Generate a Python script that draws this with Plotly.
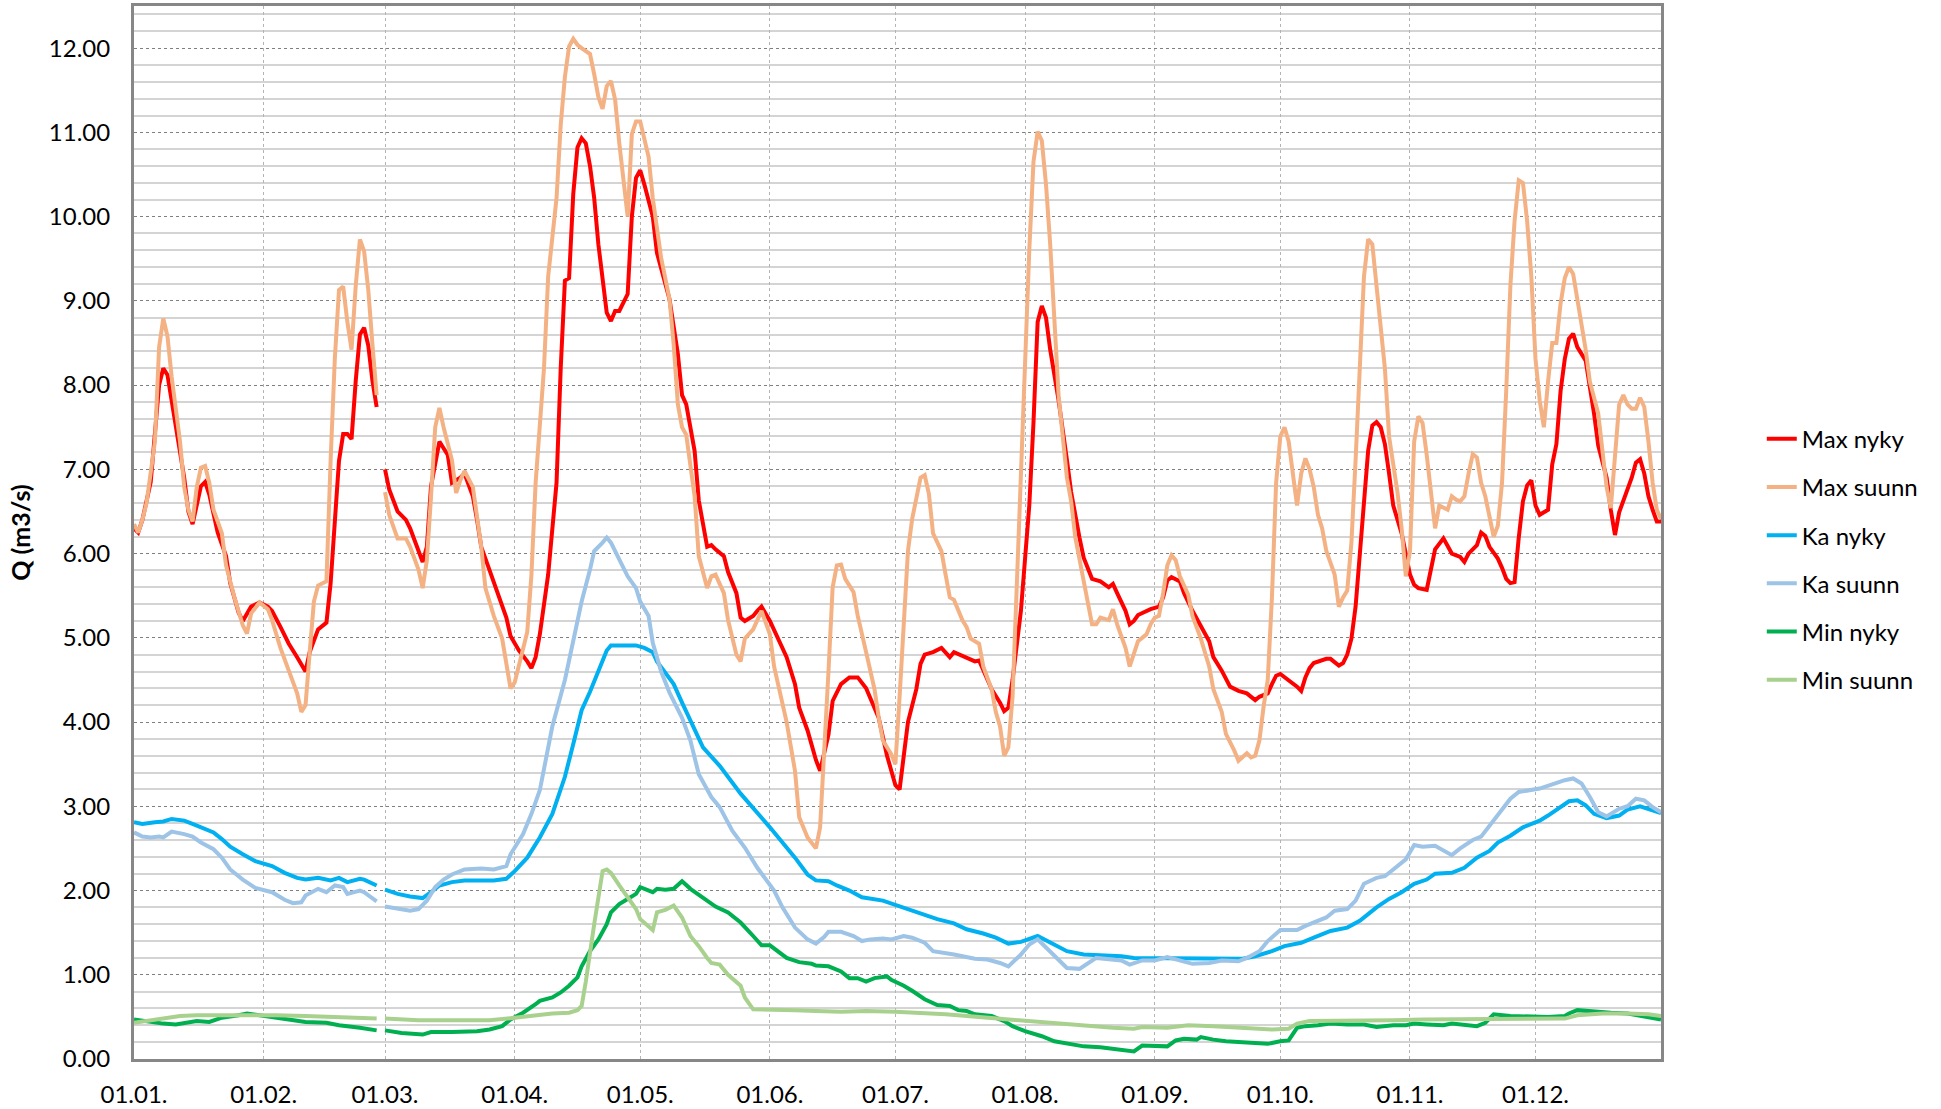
import pandas as pd
import plotly.graph_objects as go

# Daily flow over one year. Days are counted from 1 Jan of a leap year,
# 29.02. (day 59) is an empty row in the data, which leaves the gap.
YEAR_START = "2020-01-01"

MONTH_LABELS = ["01.01.", "01.02.", "01.03.", "01.04.", "01.05.", "01.06.",
                "01.07.", "01.08.", "01.09.", "01.10.", "01.11.", "01.12."]

# ------------------------------
# Max nyky
# ------------------------------
MAX_NYKY_DAY = [
    0, 1, 2, 4, 6, 7, 8, 10, 12, 13,
    14, 16, 17, 18, 20, 22, 23, 25, 26, 28,
    30, 32, 33, 35, 37, 39, 41, 42, 44, 46,
    47, 49, 50, 51, 52, 53, 54, 55, 56, 57,
    58, 59,
    60, 61, 63, 65, 66, 68, 69, 70, 71, 73,
    75, 76, 78, 79, 81, 82, 83, 85, 87, 89,
    90, 92, 94, 95, 96, 97, 99, 101, 102, 103,
    104, 105, 106, 107, 108, 109, 110, 111, 113, 114,
    115, 116, 118, 119, 120, 121, 122, 124, 125, 128,
    130, 131, 132, 134, 135, 137, 138, 139, 141, 142,
    144, 145, 146, 148, 149, 150, 152, 154, 156, 158,
    159, 161, 163, 164, 166, 167, 169, 171, 173, 175,
    178, 180, 182, 183, 185, 187, 188, 189, 191, 193,
    195, 196, 199, 201, 202, 203, 205, 207, 208, 209,
    210, 212, 213, 214, 215, 216, 217, 218, 219, 221,
    223, 224, 226, 227, 229, 231, 233, 234, 235, 237,
    238, 239, 240, 243, 245, 246, 247, 248, 250, 251,
    253, 255, 257, 258, 260, 262, 264, 266, 268, 269,
    271, 272, 273, 274, 276, 278, 279, 280, 281, 282,
    285, 286, 288, 289, 290, 291, 292, 293, 294, 295,
    296, 297, 298, 299, 300, 301, 303, 304, 305, 306,
    307, 309, 310, 311, 313, 314, 315, 317, 318, 319,
    321, 322, 323, 324, 326, 327, 328, 329, 330, 331,
    332, 333, 334, 335, 336, 338, 339, 340, 341, 342,
    343, 344, 345, 347, 348, 349, 350, 352, 353, 354,
    355, 356, 357, 358, 359, 360, 361, 362, 363, 364,
    365,
]
MAX_NYKY = [
    6.3, 6.25, 6.4, 6.85, 8.0, 8.2, 8.12, 7.5, 6.9, 6.5,
    6.35, 6.8, 6.85, 6.7, 6.25, 5.97, 5.65, 5.3, 5.2, 5.37,
    5.42, 5.37, 5.32, 5.13, 4.93, 4.77, 4.6, 4.83, 5.1, 5.18,
    5.65, 7.1, 7.42, 7.42, 7.36, 8.05, 8.6, 8.68, 8.47, 8.05,
    7.74, None,
    7.0, 6.76, 6.5, 6.4, 6.3, 6.05, 5.9, 6.08, 6.8, 7.33,
    7.17, 6.84, 6.9, 6.95, 6.68, 6.4, 6.08, 5.8, 5.53, 5.24,
    5.02, 4.85, 4.72, 4.64, 4.77, 5.04, 5.75, 6.84, 8.2, 9.24,
    9.27, 10.27, 10.82, 10.93, 10.87, 10.6, 10.22, 9.67, 8.86, 8.76,
    8.88, 8.88, 9.08, 10.0, 10.46, 10.55, 10.38, 10.0, 9.57, 9.02,
    8.37, 7.88, 7.77, 7.22, 6.63, 6.08, 6.1, 6.05, 5.97, 5.78,
    5.53, 5.24, 5.2, 5.26, 5.32, 5.37, 5.2, 4.99, 4.77, 4.45,
    4.17, 3.9, 3.55, 3.42, 3.85, 4.25, 4.45, 4.53, 4.53, 4.4,
    4.05, 3.6, 3.25, 3.2, 4.0, 4.39, 4.69, 4.8, 4.83, 4.88,
    4.77, 4.83, 4.77, 4.72, 4.73, 4.61, 4.39, 4.23, 4.13, 4.17,
    4.5, 5.32, 5.92, 6.57, 7.55, 8.75, 8.94, 8.8, 8.42, 7.82,
    7.11, 6.73, 6.19, 5.95, 5.7, 5.67, 5.6, 5.64, 5.53, 5.32,
    5.16, 5.2, 5.27, 5.34, 5.37, 5.48, 5.68, 5.72, 5.67, 5.53,
    5.32, 5.13, 4.96, 4.77, 4.61, 4.42, 4.37, 4.34, 4.26, 4.3,
    4.34, 4.45, 4.55, 4.57, 4.5, 4.42, 4.37, 4.53, 4.64, 4.7,
    4.75, 4.75, 4.67, 4.7, 4.8, 4.99, 5.37, 6.03, 6.62, 7.22,
    7.52, 7.56, 7.5, 7.3, 6.95, 6.57, 6.24, 5.97, 5.75, 5.63,
    5.59, 5.57, 5.8, 6.05, 6.18, 6.08, 6.0, 5.96, 5.9, 6.0,
    6.1, 6.25, 6.21, 6.08, 5.94, 5.83, 5.7, 5.65, 5.66, 6.19,
    6.62, 6.81, 6.87, 6.57, 6.46, 6.52, 7.06, 7.3, 7.93, 8.31,
    8.55, 8.61, 8.45, 8.29, 7.99, 7.66, 7.28, 6.9, 6.52, 6.22,
    6.49, 6.62, 6.76, 6.9, 7.08, 7.12, 6.95, 6.68, 6.52, 6.38,
    6.38,
]

# ------------------------------
# Max suunn
# ------------------------------
MAX_SUUNN_DAY = [
    0, 1, 2, 3, 5, 6, 7, 8, 9, 11,
    12, 13, 14, 15, 16, 17, 18, 19, 21, 22,
    24, 26, 27, 28, 30, 32, 33, 35, 37, 39,
    40, 41, 42, 43, 44, 46, 47, 48, 49, 50,
    51, 52, 53, 54, 55, 56, 57, 58, 59,
    60, 61, 63, 65, 66, 68, 69, 70, 71, 72,
    73, 74, 76, 77, 78, 79, 81, 82, 83, 84,
    86, 88, 89, 90, 91, 93, 94, 95, 96, 98,
    99, 101, 102, 103, 104, 105, 106, 107, 109, 110,
    111, 112, 113, 114, 115, 116, 117, 118, 119, 120,
    121, 122, 123, 124, 126, 128, 129, 130, 131, 132,
    134, 135, 137, 138, 139, 141, 142, 144, 145, 146,
    148, 150, 152, 153, 155, 156, 158, 159, 161, 163,
    164, 165, 166, 167, 168, 169, 170, 172, 173, 175,
    177, 178, 179, 181, 182, 183, 184, 185, 186, 188,
    189, 190, 191, 193, 194, 195, 196, 198, 199, 200,
    202, 203, 205, 206, 207, 208, 209, 210, 211, 212,
    213, 214, 215, 216, 217, 218, 219, 220, 221, 223,
    224, 225, 227, 229, 230, 231, 233, 234, 235, 237,
    238, 239, 240, 242, 243, 244, 245, 246, 247, 248,
    249, 250, 252, 253, 255, 257, 258, 260, 261, 263,
    264, 266, 267, 268, 269, 270, 271, 272, 273, 274,
    275, 276, 277, 278, 279, 280, 281, 282, 283, 284,
    285, 287, 288, 289, 290, 291, 292, 293, 294, 295,
    296, 297, 298, 299, 300, 302, 303, 304, 305, 306,
    307, 308, 309, 310, 311, 312, 313, 314, 315, 316,
    317, 318, 319, 320, 321, 322, 323, 324, 325, 326,
    327, 328, 329, 330, 331, 332, 333, 334, 335, 336,
    337, 338, 339, 340, 341, 342, 343, 344, 345, 346,
    347, 348, 350, 351, 352, 353, 354, 355, 356, 357,
    358, 359, 360, 361, 362, 363, 364, 365,
]
MAX_SUUNN = [
    6.35, 6.25, 6.4, 6.6, 7.33, 8.45, 8.79, 8.58, 8.1, 7.33,
    6.79, 6.52, 6.38, 6.79, 7.02, 7.04, 6.84, 6.52, 6.24, 5.86,
    5.48, 5.15, 5.05, 5.29, 5.42, 5.34, 5.21, 4.88, 4.61, 4.34,
    4.12, 4.2, 4.83, 5.43, 5.62, 5.67, 7.11, 8.31, 9.13, 9.17,
    8.75, 8.42, 9.18, 9.73, 9.59, 9.13, 8.48, 7.88, None,
    6.73, 6.46, 6.18, 6.18, 6.08, 5.81, 5.59, 5.92, 6.68, 7.5,
    7.73, 7.5, 7.11, 6.72, 6.87, 6.98, 6.79, 6.46, 6.08, 5.59,
    5.26, 4.99, 4.66, 4.4, 4.47, 4.88, 5.07, 5.75, 6.84, 8.2,
    9.29, 10.22, 11.09, 11.66, 12.02, 12.11, 12.04, 12.0, 11.93, 11.69,
    11.42, 11.28, 11.55, 11.61, 11.39, 10.87, 10.44, 10.0, 10.98, 11.13,
    11.13, 10.93, 10.71, 10.22, 9.51, 9.02, 8.48, 7.77, 7.5, 7.41,
    6.68, 5.97, 5.59, 5.73, 5.75, 5.53, 5.21, 4.8, 4.72, 4.99,
    5.1, 5.32, 5.04, 4.66, 4.23, 4.0, 3.42, 2.87, 2.63, 2.5,
    2.75, 3.6, 4.6, 5.6, 5.86, 5.87, 5.7, 5.54, 5.26, 4.83,
    4.39, 4.06, 3.78, 3.62, 3.5, 4.3, 5.2, 6.03, 6.41, 6.9,
    6.93, 6.71, 6.24, 6.03, 5.75, 5.48, 5.45, 5.21, 5.13, 4.99,
    4.93, 4.66, 4.39, 4.12, 3.95, 3.6, 3.7, 4.3, 5.6, 7.0,
    8.5, 9.6, 10.65, 11.01, 10.9, 10.38, 9.67, 8.75, 7.88, 6.9,
    6.62, 6.19, 5.65, 5.16, 5.16, 5.24, 5.21, 5.34, 5.16, 4.88,
    4.66, 4.8, 4.96, 5.04, 5.16, 5.24, 5.26, 5.53, 5.86, 5.98,
    5.92, 5.73, 5.51, 5.26, 4.99, 4.66, 4.39, 4.12, 3.86, 3.66,
    3.54, 3.63, 3.58, 3.6, 3.78, 4.18, 4.5, 5.48, 6.84, 7.39,
    7.5, 7.33, 6.95, 6.57, 6.95, 7.13, 7.0, 6.79, 6.46, 6.3,
    6.03, 5.75, 5.37, 5.48, 5.56, 6.13, 7.11, 8.2, 9.29, 9.73,
    9.67, 9.18, 8.64, 8.2, 7.39, 6.73, 6.3, 5.73, 6.03, 7.33,
    7.63, 7.55, 7.17, 6.68, 6.3, 6.57, 6.54, 6.52, 6.68, 6.64,
    6.62, 6.68, 6.95, 7.18, 7.14, 6.84, 6.68, 6.46, 6.2, 6.33,
    6.84, 7.93, 9.18, 9.95, 10.43, 10.4, 9.95, 9.29, 8.31, 7.82,
    7.5, 8.04, 8.5, 8.5, 8.97, 9.27, 9.4, 9.32, 9.02, 8.75,
    8.42, 8.04, 7.66, 7.22, 6.79, 6.54, 7.11, 7.77, 7.88, 7.77,
    7.72, 7.72, 7.85, 7.74, 7.33, 6.84, 6.52, 6.41,
]

# ------------------------------
# Ka nyky
# ------------------------------
KA_NYKY_DAY = [
    0, 2, 5, 7, 9, 12, 14, 16, 19, 21,
    23, 26, 29, 33, 36, 39, 41, 44, 47, 49,
    51, 54, 55, 58, 59,
    60, 63, 66, 69, 71, 73, 76, 79, 83, 86,
    89, 91, 94, 97, 100, 103, 105, 107, 109, 111,
    113, 114, 117, 118, 120, 122, 124, 125, 127, 129,
    131, 133, 136, 140, 145, 152, 158, 161, 163, 166,
    168, 171, 174, 179, 182, 185, 189, 192, 196, 199,
    203, 206, 209, 212, 216, 219, 223, 227, 231, 236,
    239, 244, 248, 252, 257, 261, 265, 268, 272, 275,
    279, 282, 286, 290, 293, 297, 300, 303, 306, 309,
    311, 315, 318, 321, 324, 326, 329, 332, 336, 338,
    341, 343, 345, 347, 349, 352, 355, 357, 360, 362,
    365,
]
KA_NYKY = [
    2.81, 2.79, 2.81, 2.82, 2.85, 2.83, 2.79, 2.75, 2.69, 2.61,
    2.52, 2.43, 2.35, 2.29, 2.21, 2.15, 2.13, 2.15, 2.12, 2.15,
    2.1, 2.14, 2.13, 2.06, None,
    2.01, 1.96, 1.93, 1.91, 1.98, 2.06, 2.1, 2.12, 2.12, 2.12,
    2.14, 2.23, 2.39, 2.63, 2.91, 3.35, 3.74, 4.14, 4.36, 4.61,
    4.85, 4.91, 4.91, 4.9, 4.91, 4.88, 4.83, 4.72, 4.58, 4.45,
    4.23, 4.02, 3.7, 3.48, 3.15, 2.75, 2.39, 2.19, 2.12, 2.11,
    2.06, 2.0, 1.92, 1.88, 1.83, 1.78, 1.72, 1.66, 1.61, 1.54,
    1.49, 1.44, 1.37, 1.39, 1.46, 1.38, 1.28, 1.24, 1.23, 1.22,
    1.2, 1.2, 1.2, 1.19, 1.19, 1.19, 1.19, 1.22, 1.28, 1.34,
    1.38, 1.44, 1.52, 1.56, 1.64, 1.8, 1.9, 1.98, 2.08, 2.13,
    2.2, 2.21, 2.27, 2.39, 2.47, 2.57, 2.65, 2.75, 2.83, 2.89,
    3.0, 3.06, 3.07, 3.01, 2.91, 2.86, 2.89, 2.96, 3.0, 2.97,
    2.92,
]

# ------------------------------
# Ka suunn
# ------------------------------
KA_SUUNN_DAY = [
    0, 2, 4, 6, 7, 9, 12, 14, 16, 19,
    21, 23, 26, 29, 33, 36, 38, 40, 41, 44,
    46, 48, 50, 51, 54, 55, 58, 59,
    60, 63, 66, 68, 70, 72, 74, 76, 79, 83,
    86, 89, 90, 93, 95, 97, 99, 100, 103, 105,
    107, 109, 110, 112, 113, 114, 116, 118, 120, 121,
    123, 124, 126, 128, 131, 133, 135, 138, 140, 143,
    146, 149, 153, 155, 158, 161, 163, 165, 166, 169,
    172, 174, 176, 179, 181, 184, 186, 189, 191, 194,
    196, 201, 204, 207, 209, 212, 214, 216, 218, 221,
    223, 226, 228, 230, 236, 238, 241, 244, 247, 253,
    257, 260, 264, 266, 269, 271, 274, 278, 280, 282,
    285, 287, 290, 292, 294, 297, 299, 301, 304, 306,
    308, 311, 313, 315, 317, 320, 322, 324, 327, 329,
    331, 334, 336, 339, 342, 344, 346, 348, 350, 352,
    355, 357, 359, 361, 363, 365,
]
KA_SUUNN = [
    2.69, 2.64, 2.63, 2.64, 2.63, 2.7, 2.67, 2.64, 2.57, 2.49,
    2.39, 2.25, 2.13, 2.03, 1.98, 1.89, 1.85, 1.86, 1.94, 2.02,
    1.98, 2.06, 2.04, 1.96, 2.0, 1.98, 1.87, None,
    1.81, 1.78, 1.76, 1.78, 1.88, 2.04, 2.13, 2.19, 2.25, 2.26,
    2.25, 2.29, 2.43, 2.67, 2.91, 3.19, 3.66, 3.95, 4.5, 4.94,
    5.43, 5.81, 6.03, 6.13, 6.19, 6.13, 5.94, 5.73, 5.59, 5.43,
    5.26, 4.94, 4.6, 4.35, 4.05, 3.78, 3.38, 3.11, 2.99, 2.71,
    2.51, 2.27, 2.0, 1.8, 1.56, 1.42, 1.37, 1.45, 1.51, 1.51,
    1.46, 1.4, 1.42, 1.43, 1.42, 1.46, 1.44, 1.38, 1.28, 1.26,
    1.24, 1.19, 1.18, 1.14, 1.1, 1.24, 1.36, 1.42, 1.32, 1.18,
    1.08, 1.07, 1.14, 1.2, 1.17, 1.12, 1.17, 1.17, 1.21, 1.13,
    1.14, 1.17, 1.16, 1.2, 1.28, 1.4, 1.53, 1.53, 1.58, 1.62,
    1.68, 1.76, 1.78, 1.88, 2.08, 2.15, 2.17, 2.25, 2.37, 2.54,
    2.52, 2.53, 2.47, 2.42, 2.5, 2.6, 2.64, 2.77, 2.97, 3.09,
    3.17, 3.19, 3.21, 3.26, 3.31, 3.33, 3.27, 3.11, 2.93, 2.88,
    2.97, 3.0, 3.09, 3.07, 2.99, 2.93,
]

# ------------------------------
# Min nyky
# ------------------------------
MIN_NYKY_DAY = [
    0, 4, 7, 10, 12, 15, 18, 21, 25, 27,
    30, 34, 37, 41, 46, 49, 54, 58, 59,
    60, 64, 69, 71, 76, 82, 85, 88, 90, 93,
    96, 97, 100, 102, 104, 106, 107, 109, 111, 113,
    114, 116, 118, 120, 121, 124, 125, 127, 129, 131,
    133, 136, 139, 142, 145, 148, 150, 152, 154, 156,
    159, 162, 163, 166, 169, 171, 173, 175, 177, 180,
    181, 182, 184, 186, 189, 192, 195, 197, 199, 201,
    205, 208, 210, 213, 217, 220, 224, 227, 231, 234,
    237, 239, 241, 244, 247, 249, 251, 254, 255, 258,
    261, 265, 268, 271, 274, 276, 278, 280, 283, 286,
    290, 294, 297, 301, 304, 306, 309, 313, 315, 318,
    321, 323, 325, 329, 334, 338, 342, 343, 345, 349,
    353, 357, 360, 365,
]
MIN_NYKY = [
    0.47, 0.44, 0.42, 0.41, 0.43, 0.45, 0.44, 0.49, 0.52, 0.54,
    0.52, 0.49, 0.47, 0.44, 0.43, 0.4, 0.37, 0.34, None,
    0.34, 0.31, 0.29, 0.32, 0.32, 0.33, 0.35, 0.39, 0.47, 0.55,
    0.65, 0.69, 0.73, 0.79, 0.87, 0.97, 1.1, 1.28, 1.42, 1.6,
    1.74, 1.84, 1.9, 1.96, 2.04, 1.98, 2.02, 2.01, 2.02, 2.11,
    2.02, 1.92, 1.81, 1.74, 1.62, 1.46, 1.35, 1.35, 1.27, 1.2,
    1.15, 1.13, 1.11, 1.1, 1.04, 0.96, 0.96, 0.92, 0.96, 0.98,
    0.94, 0.92, 0.87, 0.81, 0.71, 0.64, 0.63, 0.58, 0.57, 0.53,
    0.51, 0.45, 0.39, 0.33, 0.27, 0.21, 0.18, 0.15, 0.14, 0.12,
    0.1, 0.09, 0.16, 0.15, 0.15, 0.22, 0.24, 0.23, 0.26, 0.23,
    0.21, 0.2, 0.19, 0.18, 0.21, 0.22, 0.37, 0.39, 0.4, 0.42,
    0.41, 0.41, 0.38, 0.4, 0.4, 0.42, 0.41, 0.4, 0.42, 0.41,
    0.39, 0.43, 0.53, 0.51, 0.5, 0.5, 0.51, 0.54, 0.58, 0.56,
    0.55, 0.54, 0.51, 0.47,
]

# ------------------------------
# Min suunn
# ------------------------------
MIN_SUUNN_DAY = [
    0, 4, 7, 11, 15, 21, 27, 34, 41, 49,
    58, 59,
    60, 68, 76, 85, 91, 96, 100, 104, 106, 107,
    108, 110, 112, 113, 114, 116, 118, 120, 121, 124,
    125, 127, 129, 131, 133, 135, 137, 138, 140, 142,
    145, 146, 148, 152, 158, 163, 169, 175, 182, 194,
    201, 208, 215, 222, 227, 234, 239, 241, 247, 252,
    258, 264, 268, 272, 276, 278, 281, 287, 294, 301,
    308, 315, 322, 329, 336, 342, 345, 351, 357, 362,
    365,
]
MIN_SUUNN = [
    0.43, 0.46, 0.48, 0.51, 0.52, 0.52, 0.53, 0.52, 0.51, 0.5,
    0.48, None,
    0.48, 0.46, 0.46, 0.46, 0.49, 0.52, 0.54, 0.55, 0.58, 0.63,
    0.92, 1.6, 2.23, 2.25, 2.21, 2.06, 1.92, 1.78, 1.66, 1.53,
    1.74, 1.77, 1.82, 1.68, 1.46, 1.34, 1.2, 1.14, 1.12, 1.0,
    0.87, 0.73, 0.59, 0.59, 0.58, 0.57, 0.56, 0.57, 0.56, 0.53,
    0.5, 0.47, 0.44, 0.42, 0.39, 0.37, 0.36, 0.38, 0.37, 0.4,
    0.39, 0.37, 0.36, 0.35, 0.36, 0.42, 0.45, 0.45, 0.46, 0.46,
    0.47, 0.47, 0.48, 0.48, 0.48, 0.48, 0.52, 0.54, 0.54, 0.53,
    0.51,
]

# Office palette
red = "#FF0000"
peach = "#F4B183"
blue = "#00B0F0"
light_blue = "#9DC3E6"
green = "#00B050"
light_green = "#A9D18E"

font_family = "Lato, Carlito, Calibri, sans-serif"


def to_dates(days):
    return pd.Timestamp(YEAR_START) + pd.to_timedelta(days, unit="D")


series = [
    ("Max nyky", MAX_NYKY_DAY, MAX_NYKY, red),
    ("Max suunn", MAX_SUUNN_DAY, MAX_SUUNN, peach),
    ("Ka nyky", KA_NYKY_DAY, KA_NYKY, blue),
    ("Ka suunn", KA_SUUNN_DAY, KA_SUUNN, light_blue),
    ("Min nyky", MIN_NYKY_DAY, MIN_NYKY, green),
    ("Min suunn", MIN_SUUNN_DAY, MIN_SUUNN, light_green),
]

fig = go.Figure()
for name, days, values, color in series:
    fig.add_trace(
        go.Scatter(
            x=to_dates(days),
            y=values,
            name=name,
            mode="lines",
            line=dict(color=color, width=4),
            connectgaps=False,
            legendgroup=name,
        )
    )

month_ticks = to_dates([0, 31, 60, 91, 121, 152, 182, 213, 244, 274, 305, 335])

fig.update_layout(
    width=1941,
    height=1109,
    margin=dict(l=134, r=280, t=6, b=50),
    plot_bgcolor="white",
    paper_bgcolor="white",
    font=dict(family=font_family, size=24, color="black"),
    showlegend=True,
    legend=dict(
        x=1.066,
        y=0.61,
        xanchor="left",
        yanchor="top",
        tracegroupgap=14,
        font=dict(size=24),
        bgcolor="rgba(0,0,0,0)",
    ),
    xaxis=dict(
        type="date",
        range=[to_dates(0), to_dates(365)],
        tickvals=month_ticks,
        ticktext=MONTH_LABELS,
        ticks="",
        ticklabelstandoff=12,
        automargin=False,
        showgrid=True,
        gridcolor="#B4B4B4",
        griddash="dot",
        gridwidth=1,
        showline=True,
        mirror=True,
        linecolor="#878787",
        linewidth=3,
        zeroline=False,
    ),
    yaxis=dict(
        range=[0, 12.5],
        dtick=1,
        tick0=0,
        tickformat=".2f",
        ticks="",
        ticklabelstandoff=16,
        automargin=False,
        showgrid=True,
        gridcolor="#7F7F7F",
        griddash="dot",
        gridwidth=1,
        minor=dict(
            dtick=0.2,
            tick0=0,
            showgrid=True,
            gridcolor="#D4D4D4",
            gridwidth=2,
            griddash="solid",
        ),
        showline=True,
        mirror=True,
        linecolor="#878787",
        linewidth=3,
        zeroline=False,
        title=dict(text="<b>Q (m3/s)</b>", standoff=12, font=dict(size=25)),
    ),
)

fig.write_html(
    "out.html",
    config={"displayModeBar": False},
    post_script="document.body.style.margin='0';",
)
